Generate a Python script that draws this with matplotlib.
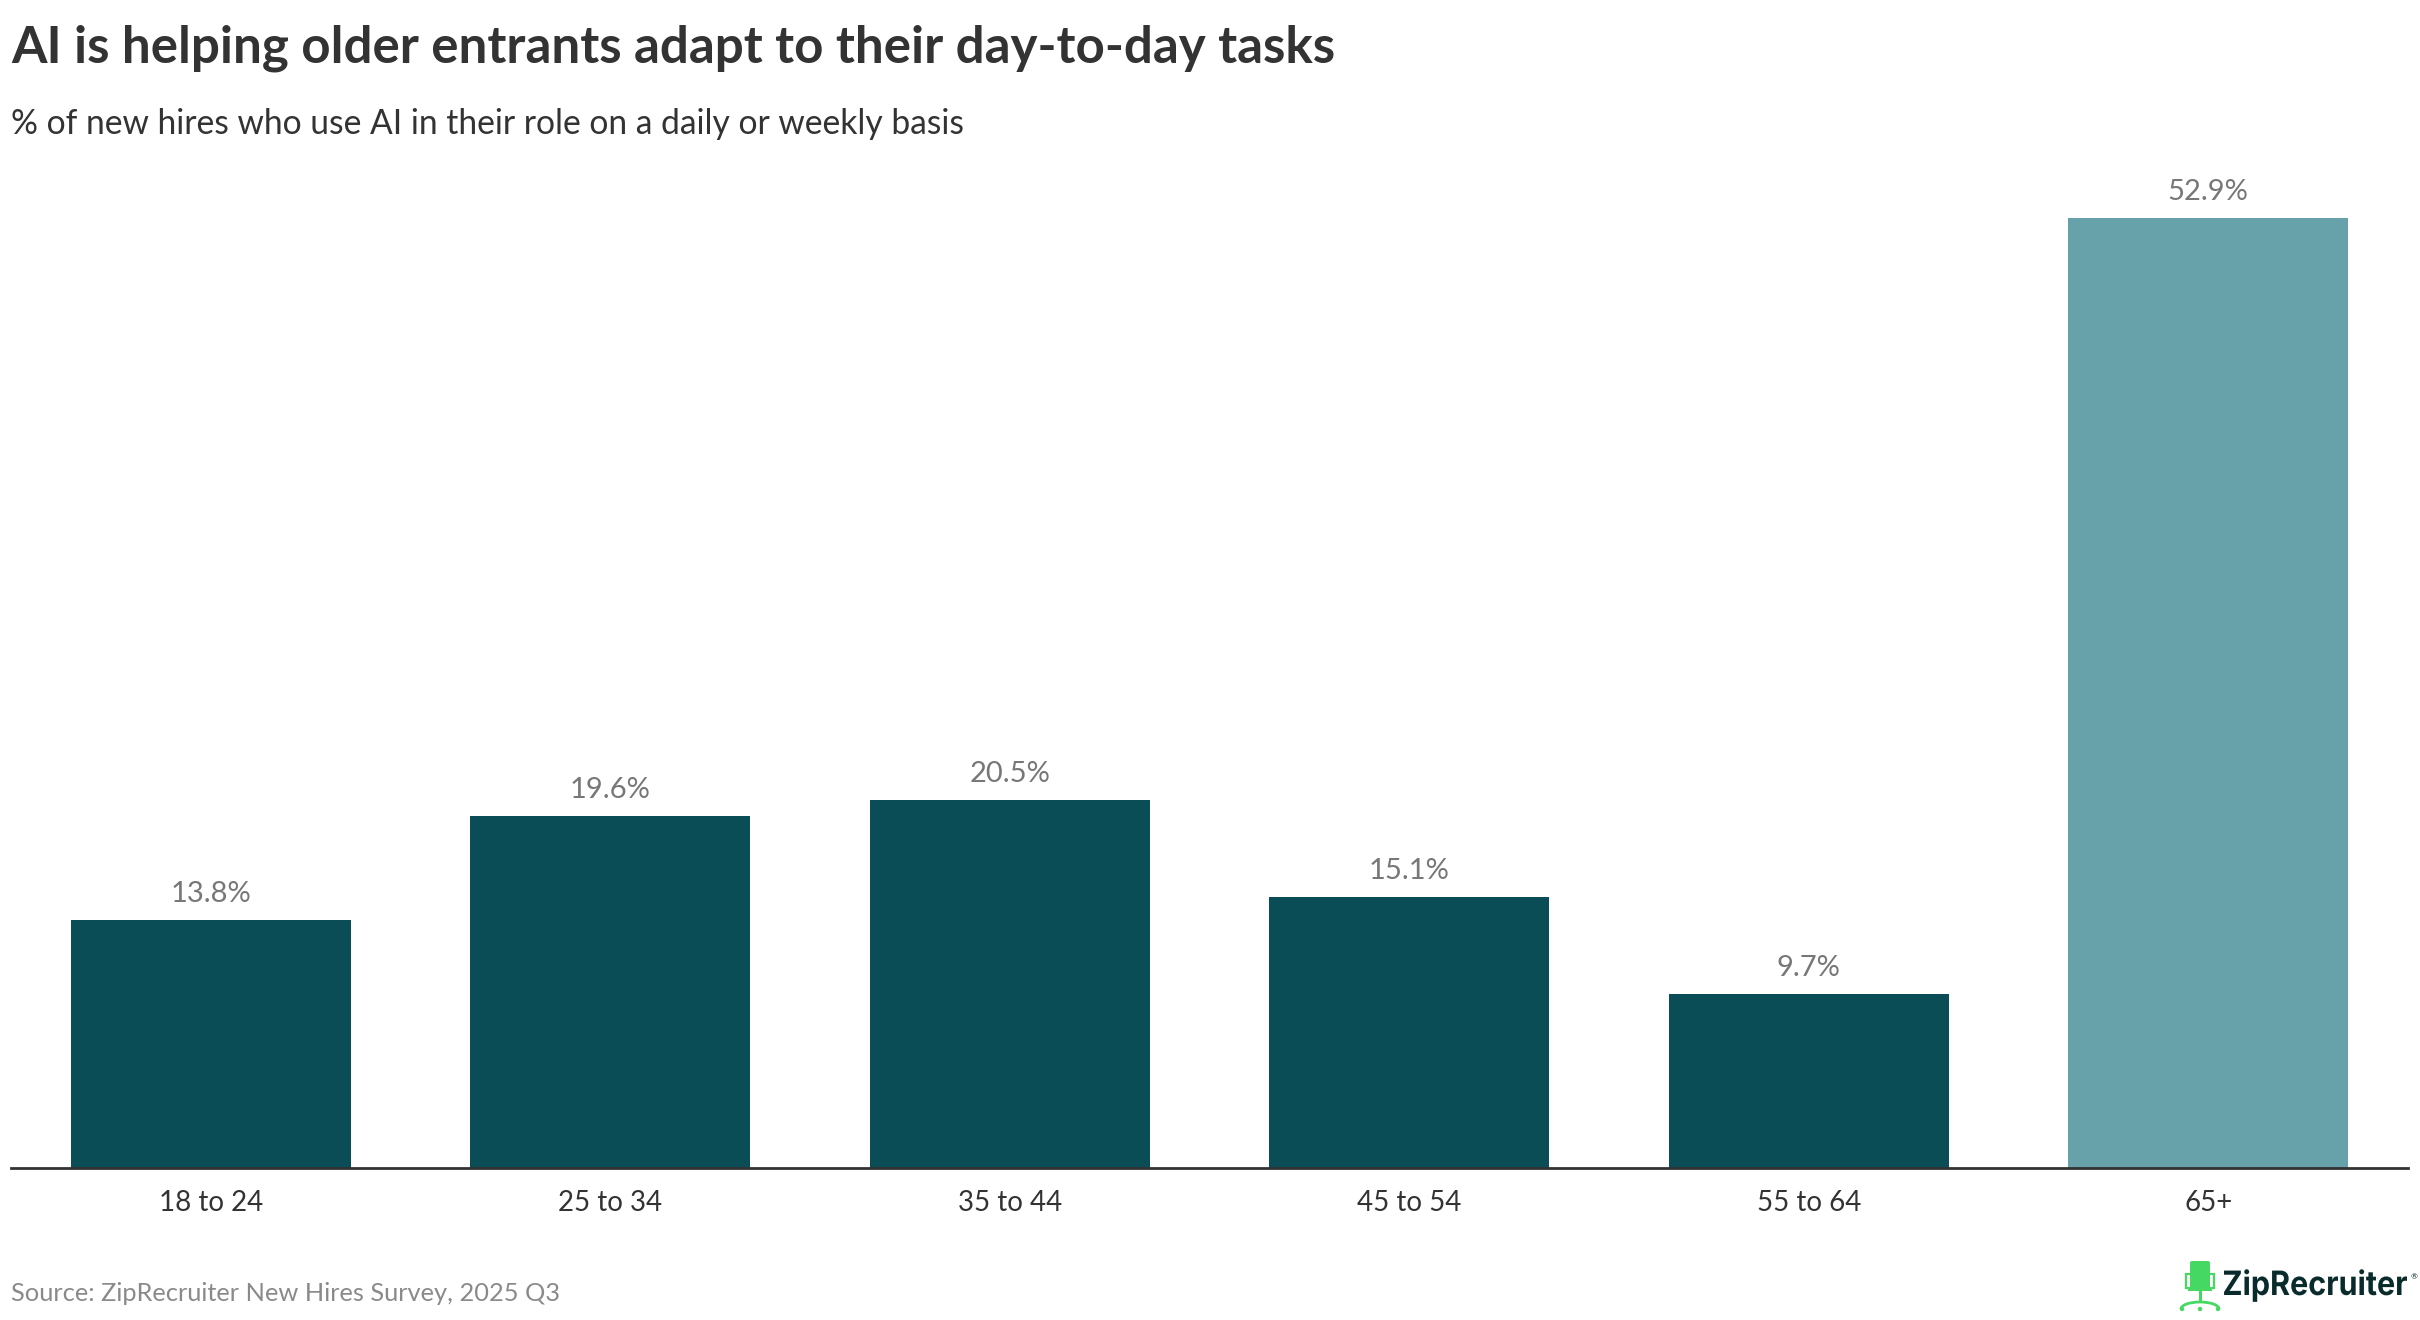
import matplotlib
matplotlib.use("Agg")
import matplotlib.pyplot as plt
from matplotlib.patches import FancyBboxPatch, Rectangle, Circle, Arc, PathPatch
from matplotlib.textpath import TextPath
from matplotlib.font_manager import FontProperties
from matplotlib.transforms import Affine2D

# data
age_groups = ["18 to 24", "25 to 34", "35 to 44", "45 to 54", "55 to 64", "65+"]
pct_daily_weekly = [13.8, 19.6, 20.5, 15.1, 9.7, 52.9]

DARK = "#0b4d56"
LIGHT = "#67a1aa"
bar_colors = [DARK] * 5 + [LIGHT]

plt.rcParams["font.family"] = ["Lato", "DejaVu Sans"]

W, H = 2420, 1320
fig = plt.figure(figsize=(W / 100, H / 100), dpi=100)

ax = fig.add_axes([11 / W, 152 / H, (2408 - 11) / W, 1006 / H])
bars = ax.bar(range(len(age_groups)), pct_daily_weekly, width=0.7, color=bar_colors)
ax.set_xlim(-0.5, len(age_groups) - 0.5)
ax.set_ylim(0, 56)

for rect, v in zip(bars, pct_daily_weekly):
    ax.annotate(f"{v:.1f}%", (rect.get_x() + rect.get_width() / 2, v),
                xytext=(0, 13), textcoords="offset points",
                ha="center", va="baseline", fontsize=21, color="#777777")

ax.set_xticks(range(len(age_groups)))
ax.set_xticklabels(age_groups, fontsize=20, color="#333333")
ax.tick_params(axis="x", length=0, pad=16)
ax.set_yticks([])
for s in ["top", "left", "right"]:
    ax.spines[s].set_visible(False)
ax.spines["bottom"].set_color("#333333")
ax.spines["bottom"].set_linewidth(2)

fig.text(11 / W, 1 - 62 / H, "AI is helping older entrants adapt to their day-to-day tasks",
         fontsize=36.8, fontweight="bold", color="#333333", va="baseline")
fig.text(11 / W, 1 - 134 / H, "% of new hires who use AI in their role on a daily or weekly basis",
         fontsize=24.2, color="#333333", va="baseline")
fig.text(11 / W, 19 / H, "Source: ZipRecruiter New Hires Survey, 2025 Q3",
         fontsize=18.3, color="#8a8a8a", va="baseline")

# logo, drawn in pixel coordinates
lg = fig.add_axes([0, 0, 1, 1], zorder=5)
lg.set_xlim(0, W)
lg.set_ylim(H, 0)
lg.axis("off")
lg.patch.set_alpha(0)
GREEN = "#45d862"
lg.add_patch(FancyBboxPatch((2190, 1261), 20, 27, boxstyle="round,pad=0,rounding_size=2",
                            fc=GREEN, ec="none"))
lg.add_patch(Rectangle((2186, 1274), 28, 14, fc="none", ec=GREEN, lw=1.6))
lg.add_patch(Rectangle((2188, 1288), 24, 3, fc=GREEN, ec="none"))
lg.add_patch(Rectangle((2198.5, 1291), 3, 10, fc=GREEN, ec="none"))
lg.add_patch(Arc((2200, 1309), 38, 14, theta1=180, theta2=360, color=GREEN, lw=2))
for cx in (2182, 2200, 2218):
    lg.add_patch(Circle((cx, 1309), 2.2, fc=GREEN, ec="none"))

tp = TextPath((0, 0), "ZipRecruiter", size=1, prop=FontProperties(family="Inter", weight="bold"))
ext = tp.get_extents()
sx = 183 / ext.width
sy = 24.4 / 0.727
tr = Affine2D().translate(-ext.x0, 0).scale(sx, -sy).translate(2224, 1295)
lg.add_patch(PathPatch(tr.transform_path(tp), fc="#0a2b2b", ec="none"))
lg.text(2414, 1277, "®", fontsize=6, color="#0a2b2b", ha="center", va="center")

fig.savefig("out.png", dpi=100)
